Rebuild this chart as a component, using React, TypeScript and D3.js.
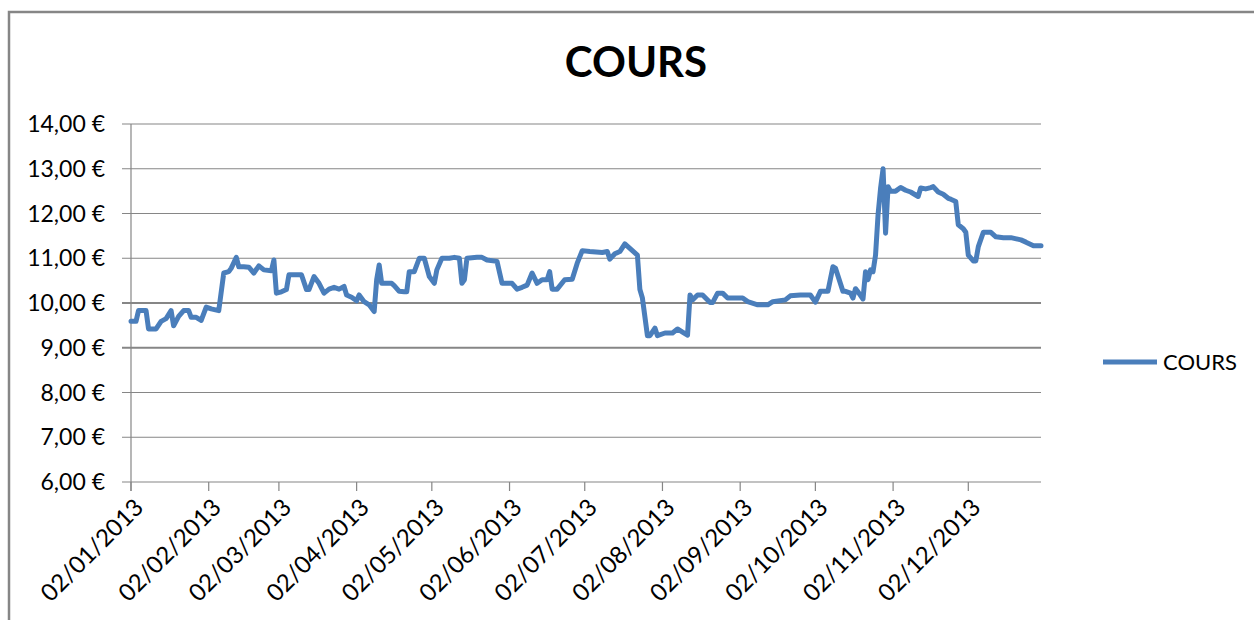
import React from "react";
import * as d3 from "d3";

const dates: string[] = [
  "2013-01-02","2013-01-04","2013-01-05","2013-01-08","2013-01-09","2013-01-12","2013-01-14","2013-01-16","2013-01-18","2013-01-19",
  "2013-01-21","2013-01-23","2013-01-25","2013-01-26","2013-01-28","2013-01-30","2013-02-01","2013-02-03","2013-02-06","2013-02-08",
  "2013-02-10","2013-02-11","2013-02-12","2013-02-13","2013-02-14","2013-02-16","2013-02-18","2013-02-20","2013-02-22","2013-02-24",
  "2013-02-27","2013-02-28","2013-03-01","2013-03-03","2013-03-05","2013-03-06","2013-03-11","2013-03-13","2013-03-14","2013-03-16",
  "2013-03-18","2013-03-20","2013-03-22","2013-03-24","2013-03-26","2013-03-28","2013-03-29","2013-03-31","2013-04-02","2013-04-03",
  "2013-04-05","2013-04-07","2013-04-09","2013-04-10","2013-04-11","2013-04-12","2013-04-14","2013-04-16","2013-04-17","2013-04-19",
  "2013-04-21","2013-04-22","2013-04-23","2013-04-25","2013-04-27","2013-04-29","2013-05-01","2013-05-03","2013-05-04","2013-05-06",
  "2013-05-09","2013-05-11","2013-05-13","2013-05-14","2013-05-15","2013-05-16","2013-05-20","2013-05-22","2013-05-24","2013-05-28",
  "2013-05-30","2013-06-03","2013-06-05","2013-06-07","2013-06-09","2013-06-11","2013-06-13","2013-06-15","2013-06-17","2013-06-18",
  "2013-06-19","2013-06-21","2013-06-24","2013-06-27","2013-06-29","2013-07-01","2013-07-04","2013-07-09","2013-07-11","2013-07-12",
  "2013-07-14","2013-07-16","2013-07-18","2013-07-20","2013-07-23","2013-07-24","2013-07-25","2013-07-27","2013-07-28","2013-07-30",
  "2013-07-31","2013-08-03","2013-08-06","2013-08-08","2013-08-10","2013-08-12","2013-08-13","2013-08-14","2013-08-16","2013-08-18",
  "2013-08-21","2013-08-22","2013-08-24","2013-08-26","2013-08-28","2013-09-03","2013-09-05","2013-09-09","2013-09-13","2013-09-15",
  "2013-09-20","2013-09-22","2013-09-26","2013-09-30","2013-10-02","2013-10-04","2013-10-07","2013-10-09","2013-10-10","2013-10-13",
  "2013-10-14","2013-10-16","2013-10-17","2013-10-18","2013-10-19","2013-10-21","2013-10-22","2013-10-23","2013-10-24","2013-10-25",
  "2013-10-26","2013-10-27","2013-10-28","2013-10-29","2013-10-30","2013-10-31","2013-11-01","2013-11-03","2013-11-05","2013-11-07",
  "2013-11-09","2013-11-12","2013-11-13","2013-11-15","2013-11-17","2013-11-18","2013-11-20","2013-11-22","2013-11-24","2013-11-25",
  "2013-11-27","2013-11-28","2013-11-30","2013-12-01","2013-12-02","2013-12-04","2013-12-05","2013-12-06","2013-12-08","2013-12-11",
  "2013-12-13","2013-12-16","2013-12-19","2013-12-23","2013-12-25","2013-12-28","2013-12-31",
];

const cours: number[] = [
  9.59, 9.59, 9.83, 9.83, 9.42, 9.42, 9.59, 9.65, 9.83, 9.49,
  9.70, 9.83, 9.83, 9.68, 9.68, 9.61, 9.91, 9.87, 9.83, 10.67,
  10.70, 10.78, 10.90, 11.02, 10.81, 10.81, 10.80, 10.67, 10.83, 10.74,
  10.72, 10.96, 10.22, 10.25, 10.30, 10.63, 10.63, 10.30, 10.30, 10.59,
  10.44, 10.22, 10.31, 10.35, 10.31, 10.37, 10.18, 10.13, 10.05, 10.18,
  10.03, 9.96, 9.81, 10.52, 10.85, 10.44, 10.44, 10.44, 10.39, 10.26,
  10.25, 10.25, 10.70, 10.70, 11.00, 11.00, 10.59, 10.44, 10.74, 11.00,
  11.00, 11.02, 11.00, 10.44, 10.52, 11.00, 11.02, 11.02, 10.96, 10.93,
  10.44, 10.44, 10.31, 10.35, 10.40, 10.67, 10.44, 10.52, 10.52, 10.70,
  10.31, 10.31, 10.52, 10.53, 10.89, 11.17, 11.15, 11.13, 11.15, 10.98,
  11.10, 11.15, 11.32, 11.22, 11.07, 10.30, 10.11, 9.27, 9.27, 9.44,
  9.27, 9.33, 9.33, 9.42, 9.35, 9.28, 10.18, 10.07, 10.18, 10.18,
  10.01, 10.01, 10.22, 10.22, 10.11, 10.11, 10.03, 9.96, 9.96, 10.03,
  10.07, 10.16, 10.18, 10.18, 10.02, 10.26, 10.26, 10.81, 10.78, 10.26,
  10.26, 10.22, 10.11, 10.32, 10.25, 10.09, 10.70, 10.52, 10.74, 10.70,
  11.07, 11.97, 12.56, 13.00, 11.56, 12.60, 12.50, 12.50, 12.58, 12.52,
  12.48, 12.38, 12.57, 12.55, 12.58, 12.60, 12.48, 12.43, 12.34, 12.32,
  12.27, 11.75, 11.66, 11.58, 11.07, 10.94, 10.94, 11.26, 11.58, 11.58,
  11.48, 11.46, 11.46, 11.41, 11.36, 11.28, 11.28,
];

const xTickDates: string[] = [
  "2013-01-02","2013-02-02","2013-03-02","2013-04-02","2013-05-02","2013-06-02",
  "2013-07-02","2013-08-02","2013-09-02","2013-10-02","2013-11-02","2013-12-02",
];
const yTicks: number[] = [6, 7, 8, 9, 10, 11, 12, 13, 14];

const title = "COURS";
const seriesName = "COURS";

const parse = d3.timeParse("%Y-%m-%d");
const fmtDate = d3.timeFormat("%d/%m/%Y");
const fmtEuro = (v: number) => d3.format(".2f")(v).replace(".", ",") + " €";

export default function App() {
  const W = 1254, H = 620;
  const left = 131, right = 1041, top = 124, bottom = 482;
  const font = "Lato, 'Open Sans', sans-serif";
  const x = d3.scaleTime()
    .domain([parse("2013-01-02") as Date, parse("2013-12-31") as Date])
    .range([left, right]);
  const y = d3.scaleLinear().domain([6, 14]).range([bottom, top]);
  const pts = dates.map((d, i) => ({ d: parse(d) as Date, v: cours[i] }));
  const line = d3.line<{ d: Date; v: number }>().x(p => x(p.d)).y(p => y(p.v));
  const grid = "#868686";
  const blue = "#4a7ebb";
  return (
    <svg width={W} height={H} style={{ position: "absolute", left: 0, top: 0, background: "#fff" }}>
      <rect x={9} y={12} width={1400} height={900} fill="#fff" stroke={grid} strokeWidth={2.5} />
      <text x={636} y={77} textAnchor="middle" fontFamily={font} fontWeight="bold" fontSize={42} fill="#000">{title}</text>
      {yTicks.map(t => (
        <g key={t}>
          <line x1={left - 9} x2={right} y1={y(t)} y2={y(t)} stroke={grid} strokeWidth={t === 10 || t === 9 ? 2 : 1.2} />
          <text x={105} y={y(t)} dy="0.35em" textAnchor="end" fontFamily={font} fontSize={23} fill="#000">{fmtEuro(t)}</text>
        </g>
      ))}
      <line x1={left} x2={left} y1={top} y2={bottom + 9} stroke={grid} strokeWidth={1.2} />
      {xTickDates.map(s => {
        const dt = parse(s) as Date;
        const tx = x(dt);
        return (
          <g key={s}>
            <line x1={tx} x2={tx} y1={bottom} y2={bottom + 9} stroke={grid} strokeWidth={1.2} />
            <text transform={`translate(${tx + 2},${bottom + 15}) rotate(-45)`} textAnchor="end" dy="0.7em"
              fontFamily={font} fontSize={24} fill="#000">{fmtDate(dt)}</text>
          </g>
        );
      })}
      <path d={line(pts) || ""} fill="none" stroke={blue} strokeWidth={5} strokeLinejoin="round" strokeLinecap="round" />
      <line x1={1103} x2={1157} y1={362} y2={362} stroke={blue} strokeWidth={5} />
      <text x={1163} y={362} dy="0.35em" fontFamily={font} fontSize={22} fill="#000">{seriesName}</text>
    </svg>
  );
}
